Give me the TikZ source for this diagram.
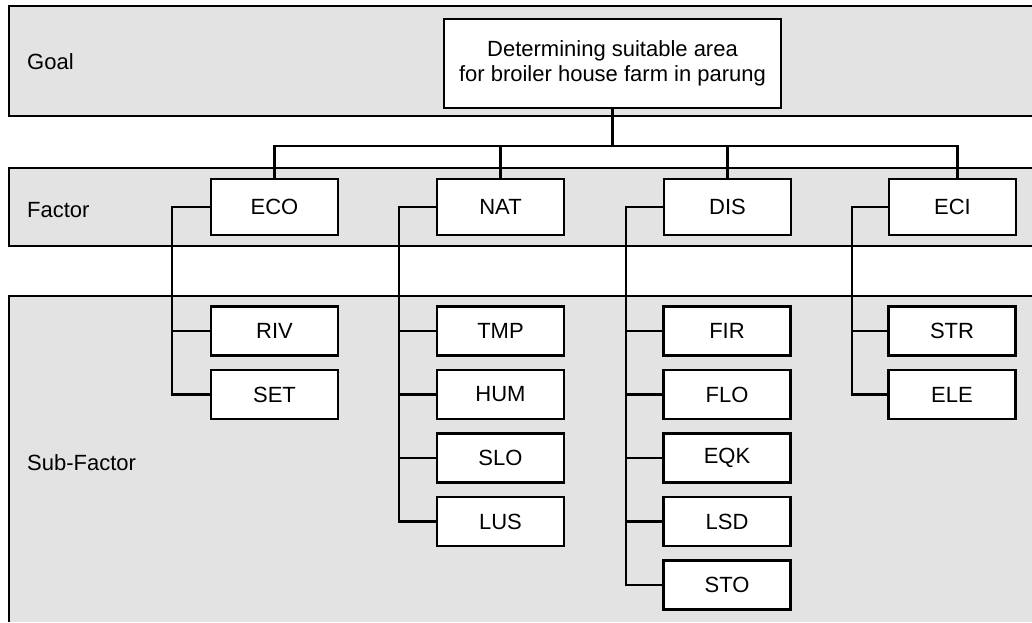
\documentclass[tikz,border=0pt]{standalone}
\usepackage{fontspec}
\setmainfont{Liberation Sans}
\usetikzlibrary{calc}
\definecolor{bandgray}{RGB}{227,227,227}
\tikzset{
  x=1pt,y=-1pt,
  line/.style={line width=2.2pt,draw=black},
  bandlabel/.style={anchor=base west,inner sep=0pt,font=\fontsize{22}{25}\selectfont},
  fbox/.style={draw=black,line width=2.2pt,fill=white,minimum width=127pt,minimum height=56pt,inner sep=0pt,font=\fontsize{22}{25}\selectfont},
  sbox/.style={draw=black,line width=2.2pt,fill=white,minimum width=127pt,minimum height=49pt,inner sep=0pt,font=\fontsize{22}{25}\selectfont},
  goalbox/.style={draw=black,line width=2.2pt,fill=white,minimum width=337pt,minimum height=89pt,inner sep=0pt,align=center,font=\fontsize{22}{25}\selectfont}
}
\begin{document}
\begin{tikzpicture}
\useasboundingbox (0,0) rectangle (1032,622);
% bands
\fill[bandgray] (9,6) rectangle (1032,116);
\draw[line] (1032,6) -- (9,6) -- (9,116) -- (1032,116);
\fill[bandgray] (9,168) rectangle (1032,246);
\draw[line] (1032,168) -- (9,168) -- (9,246) -- (1032,246);
\fill[bandgray] (9,296) rectangle (1032,622);
\draw[line] (1032,296) -- (9,296) -- (9,622);
% band labels
\node[bandlabel] (lgoal) at (27,69) {Goal};
\node[bandlabel] (lfactor) at (27,217) {Factor};
\node[bandlabel] (lsub) at (27,470) {Sub-Factor};
% goal
\node[goalbox] (goal) at (612.5,63.5) {Determining suitable area\\for broiler house farm in parung};
% factors
\node[fbox] (eco) at (274.5,207) {ECO};
\node[fbox] (nat) at (500.5,207) {NAT};
\node[fbox] (dis) at (727.5,207) {DIS};
\node[fbox] (eci) at (952.5,207) {ECI};
% sub-factors
\node[sbox] (riv) at (274.5,331) {RIV};
\node[sbox] (set) at (274.5,394.5) {SET};
\node[sbox] (tmp) at (500.5,331) {TMP};
\node[sbox] (hum) at (500.5,394.5) {HUM};
\node[sbox] (slo) at (500.5,458) {SLO};
\node[sbox] (lus) at (500.5,521.5) {LUS};
\node[sbox] (fir) at (727,331) {FIR};
\node[sbox] (flo) at (727,394.5) {FLO};
\node[sbox] (eqk) at (727,458) {EQK};
\node[sbox] (lsd) at (727,521.5) {LSD};
\node[sbox] (sto) at (727,585) {STO};
\node[sbox] (str) at (952,331) {STR};
\node[sbox] (ele) at (952,394.5) {ELE};
% goal to factors
\coordinate (hub) at ($(goal.south)+(0,37)$);
\coordinate (ecitop) at ($(eci.north)+(5,0)$);
\draw[line] (goal.south) -- (hub);
\draw[line] (eco.north) -- (eco.north |- hub) -- (ecitop |- hub) -- (ecitop);
\draw[line] (nat.north |- hub) -- (nat.north);
\draw[line] (dis.north |- hub) -- (dis.north);
% factor to sub-factors
\coordinate (ecoV) at ($(eco.west)+(-38,0)$);
\coordinate (natV) at ($(nat.west)+(-37,0)$);
\coordinate (disV) at ($(dis.west)+(-37,0)$);
\coordinate (eciV) at ($(eci.west)+(-36,0)$);
\draw[line] (eco.west) -- (ecoV) |- (set.west);
\draw[line] (ecoV |- riv.west) -- (riv.west);
\draw[line] (nat.west) -- (natV) |- (lus.west);
\draw[line] (natV |- tmp.west) -- (tmp.west);
\draw[line] (natV |- hum.west) -- (hum.west);
\draw[line] (natV |- slo.west) -- (slo.west);
\draw[line] (dis.west) -- (disV) |- (sto.west);
\draw[line] (disV |- fir.west) -- (fir.west);
\draw[line] (disV |- flo.west) -- (flo.west);
\draw[line] (disV |- eqk.west) -- (eqk.west);
\draw[line] (disV |- lsd.west) -- (lsd.west);
\draw[line] (eci.west) -- (eciV) |- (ele.west);
\draw[line] (eciV |- str.west) -- (str.west);
\end{tikzpicture}
\end{document}
